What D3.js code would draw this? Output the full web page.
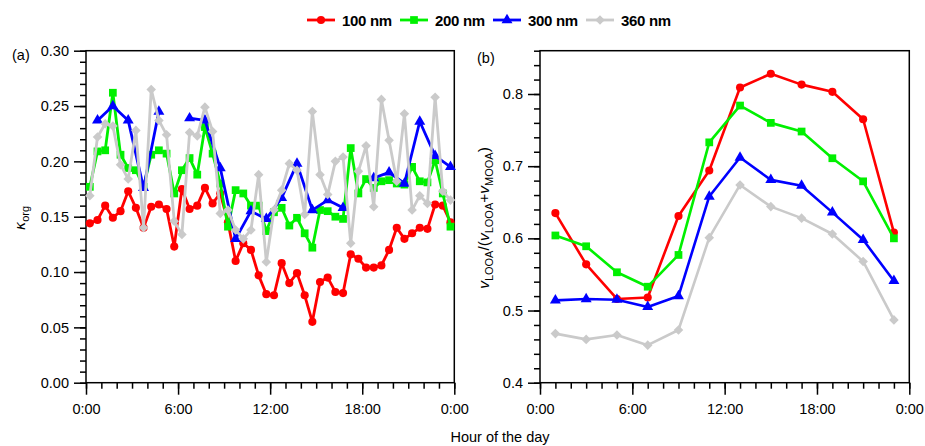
<!DOCTYPE html>
<html><head><meta charset="utf-8">
<script src="https://cdn.jsdelivr.net/npm/d3@7"></script>
<style>body{margin:0;background:#fff} svg{display:block;font-family:"Liberation Sans",Arial,sans-serif}</style>
</head><body><svg id="c" width="925" height="446"></svg>
<script>
// ---------- DATA ----------
const seriesNames = ["100 nm", "200 nm", "300 nm", "360 nm"];
const seriesColors = ["#ff0000", "#00f000", "#0000ff", "#cacaca"];
const xTickLabels = ["0:00", "6:00", "12:00", "18:00", "0:00"];
const xTickHours = [0, 6, 12, 18, 24];

// panel (a): half-hourly times (hour of day)
const timesA = [0.25,0.75,1.25,1.75,2.25,2.75,3.25,3.75,4.25,4.75,5.25,5.75,6.25,6.75,7.25,7.75,
  8.25,8.75,9.25,9.75,10.25,10.75,11.25,11.75,12.25,12.75,13.25,13.75,14.25,14.75,15.25,15.75,
  16.25,16.75,17.25,17.75,18.25,18.75,19.25,19.75,20.25,20.75,21.25,21.75,22.25,22.75,23.25,23.75];
const timesA300 = [0.75,1.75,2.75,3.75,4.75,5.75,6.75,7.75,8.75,9.75,10.75,11.75,
  12.75,13.75,14.75,15.75,16.75,17.75,18.75,19.75,20.75,21.75,22.75,23.75];

const kappa100 = [0.144,0.147,0.160,0.149,0.155,0.173,0.158,0.140,0.159,0.161,0.157,0.123,
  0.175,0.157,0.160,0.176,0.162,0.171,0.145,0.110,0.126,0.120,0.097,0.080,
  0.079,0.108,0.090,0.099,0.079,0.055,0.091,0.095,0.082,0.081,0.116,0.112,
  0.104,0.104,0.106,0.120,0.140,0.130,0.135,0.140,0.139,0.161,0.160,0.145];
const kappa200 = [0.177,0.209,0.210,0.262,0.206,0.194,0.192,0.177,0.206,0.210,0.207,0.171,
  0.192,0.203,0.188,0.231,0.207,0.180,0.141,0.174,0.171,0.160,0.160,0.137,
  0.154,0.158,0.142,0.149,0.135,0.122,0.156,0.155,0.150,0.148,0.212,0.171,
  0.184,0.176,0.182,0.183,0.180,0.179,0.195,0.182,0.181,0.201,0.171,0.141];
const kappa300 = [0.237,0.250,0.237,0.176,0.245,null,0.239,0.237,0.194,0.130,0.155,0.148,
  0.167,0.198,0.156,0.165,0.158,null,0.185,0.190,0.180,0.236,0.205,0.195];
const kappa360 = [0.169,0.222,0.234,0.232,0.197,0.184,0.228,0.140,0.265,0.237,0.224,0.146,
  0.134,0.226,0.223,0.249,0.227,0.153,0.156,0.138,0.130,0.138,0.188,0.109,
  0.156,0.174,0.198,0.192,0.152,0.245,0.188,0.170,0.200,0.204,0.126,0.191,
  0.214,0.159,0.256,0.219,0.182,0.243,0.156,0.169,0.162,0.258,0.173,0.165];

// panel (b): 2-hourly times
const timesB = [1,3,5,7,9,11,13,15,17,19,21,23];
const frac100 = [0.635,0.564,0.516,0.518,0.631,0.694,0.809,0.828,0.813,0.803,0.765,0.608];
const frac200 = [0.604,0.589,0.553,0.533,0.577,0.733,0.784,0.760,0.748,0.711,0.679,0.600];
const frac300 = [0.514,0.516,0.515,0.505,0.520,0.658,0.712,0.681,0.673,0.636,0.598,0.541];
const frac360 = [0.468,0.460,0.466,0.452,0.473,0.601,0.674,0.644,0.628,0.606,0.568,0.487];

// ---------- DRAW ----------
const svg = d3.select("#c");
const plotTop = 50.7, plotBottom = 382.7;
const pa = {x0: 86, x1: 454.3};
const pb = {x0: 540, x1: 909.3};

const symbols = [
  d3.symbol().type(d3.symbolCircle).size(52),
  d3.symbol().type(d3.symbolSquare).size(60),
  d3.symbol().type(d3.symbolTriangle).size(52),
  d3.symbol().type(d3.symbolSquare).size(46)
];
const symRot = [0, 0, 0, 45];

function drawPanel(p, yDomain, yMajor, yMinor, yFmt, series, lw) {
  const x = d3.scaleLinear().domain([0, 24]).range([p.x0, p.x1]);
  const y = d3.scaleLinear().domain(yDomain).range([plotBottom, plotTop]);
  const g = svg.append("g");
  g.append("rect").attr("x", p.x0).attr("y", plotTop).attr("width", p.x1 - p.x0).attr("height", plotBottom - plotTop)
    .attr("fill", "none").attr("stroke", "#000").attr("stroke-width", 1.5);
  g.append("g").attr("transform", `translate(0,${plotBottom})`)
    .call(d3.axisBottom(x).tickValues(d3.range(0, 25, 1)).tickSize(6).tickFormat(""))
    .call(a => a.select(".domain").remove());
  g.append("g").attr("transform", `translate(0,${plotBottom})`)
    .call(d3.axisBottom(x).tickValues(xTickHours).tickSize(12).tickPadding(9).tickFormat((d, i) => xTickLabels[i]))
    .call(a => a.select(".domain").remove())
    .call(a => a.selectAll("text").attr("font-size", 14.5).attr("fill", "#000").style("font-family", "Liberation Sans, Arial"));
  g.append("g").attr("transform", `translate(${p.x0},0)`)
    .call(d3.axisLeft(y).tickValues(yMinor).tickSize(6).tickFormat(""))
    .call(a => a.select(".domain").remove());
  g.append("g").attr("transform", `translate(${p.x0},0)`)
    .call(d3.axisLeft(y).tickValues(yMajor).tickSize(12).tickPadding(5).tickFormat(yFmt))
    .call(a => a.select(".domain").remove())
    .call(a => a.selectAll("text").attr("font-size", 14.5).attr("fill", "#000").style("font-family", "Liberation Sans, Arial"));
  g.selectAll(".tick line").attr("stroke", "#000").attr("stroke-width", 1.5);

  series.forEach((s, k) => {
    const pts = s.t.map((t, i) => ({t, v: s.v[i]}));
    const line = d3.line().defined(d => d.v !== null).x(d => x(d.t)).y(d => y(d.v));
    g.append("path").datum(pts).attr("d", line).attr("fill", "none")
      .attr("stroke", seriesColors[k]).attr("stroke-width", lw).attr("stroke-linejoin", "round");
    g.selectAll(null).data(pts.filter(d => d.v !== null)).enter().append("path")
      .attr("d", symbols[k])
      .attr("transform", d => `translate(${x(d.t)},${y(d.v)}) rotate(${symRot[k]})`)
      .attr("fill", seriesColors[k]);
  });
  return {x, y};
}

drawPanel(pa, [0, 0.30], d3.range(0, 0.301, 0.05), d3.range(0, 0.3001, 0.01), d3.format(".2f"), [
  {t: timesA, v: kappa100}, {t: timesA, v: kappa200}, {t: timesA300, v: kappa300}, {t: timesA, v: kappa360}
], 2.8);

drawPanel(pb, [0.4, 0.86], [0.4, 0.5, 0.6, 0.7, 0.8], d3.range(0.4, 0.8601, 0.02), d3.format(".1f"), [
  {t: timesB, v: frac100}, {t: timesB, v: frac200}, {t: timesB, v: frac300}, {t: timesB, v: frac360}
], 2.6);

svg.append("text").attr("x", 12).attr("y", 60).attr("font-size", 14.5).text("(a)");
svg.append("text").attr("x", 477).attr("y", 63).attr("font-size", 14.5).text("(b)");

const ya = svg.append("text").attr("transform", "translate(25,218) rotate(-90)").attr("text-anchor", "middle").attr("font-size", 15);
ya.append("tspan").attr("font-style", "italic").attr("font-family", "DejaVu Sans").attr("font-size", 14).text("κ");
ya.append("tspan").attr("dy", 4).attr("font-size", 11).text("org");

const yb = svg.append("text").attr("transform", "translate(489,218) rotate(-90)").attr("text-anchor", "middle").attr("font-size", 15.5);
yb.append("tspan").attr("font-style", "italic").text("v");
yb.append("tspan").attr("dy", 4).attr("font-size", 11).text("LOOA");
yb.append("tspan").attr("dy", -4).text("/(");
yb.append("tspan").attr("font-style", "italic").text("v");
yb.append("tspan").attr("dy", 4).attr("font-size", 11).text("LOOA");
yb.append("tspan").attr("dy", -4).text("+");
yb.append("tspan").attr("font-style", "italic").text("v");
yb.append("tspan").attr("dy", 4).attr("font-size", 11).text("MOOA");
yb.append("tspan").attr("dy", -4).text(")");

svg.append("text").attr("x", 500).attr("y", 442).attr("text-anchor", "middle").attr("font-size", 14.5).text("Hour of the day");

const legX = [307, 400, 493, 586];
seriesNames.forEach((n, k) => {
  const g = svg.append("g").attr("transform", `translate(${legX[k]},20)`);
  g.append("line").attr("x1", 0).attr("x2", 28).attr("stroke", seriesColors[k]).attr("stroke-width", 2.8);
  g.append("path").attr("d", symbols[k]).attr("transform", `translate(14,0) rotate(${symRot[k]})`).attr("fill", seriesColors[k]);
  g.append("text").attr("x", 35).attr("y", 5.5).attr("font-size", 15).attr("font-weight", "bold").attr("letter-spacing", -0.3).text(n);
});
</script></body></html>
